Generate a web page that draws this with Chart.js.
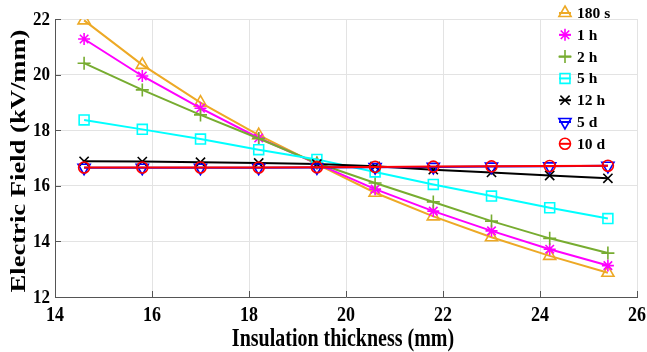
<!DOCTYPE html>
<html>
<head>
<meta charset="utf-8">
<script src="https://cdn.jsdelivr.net/npm/chart.js@4/dist/chart.umd.min.js"></script>
<style>
  html, body { margin: 0; padding: 0; background: #ffffff; }
  #wrap { width: 647px; height: 352px; position: relative; }
</style>
</head>
<body>
<div id="wrap"><canvas id="chart" width="647" height="352"></canvas></div>
<script>
// Insulation thickness (mm) at which the field was evaluated
const thickness = [14.6, 15.8, 17.0, 18.2, 19.4, 20.6, 21.8, 23.0, 24.2, 25.4];

// Electric field (kV/mm) after each elapsed time
const field180s = [21.95, 20.35, 18.99, 17.82, 16.78, 15.75, 14.90, 14.15, 13.48, 12.87];
const field1h   = [21.28, 19.95, 18.79, 17.72, 16.80, 15.88, 15.09, 14.38, 13.72, 13.13];
const field2h   = [20.41, 19.45, 18.55, 17.70, 16.82, 16.10, 15.42, 14.73, 14.11, 13.58];
const field5h   = [18.37, 18.03, 17.68, 17.30, 16.95, 16.50, 16.05, 15.63, 15.21, 14.82];
const field12h  = [16.88, 16.87, 16.85, 16.82, 16.78, 16.70, 16.58, 16.48, 16.37, 16.27];
const field5d   = [16.65, 16.65, 16.65, 16.65, 16.66, 16.67, 16.68, 16.69, 16.70, 16.72];
const field10d  = [16.66, 16.66, 16.66, 16.66, 16.67, 16.68, 16.69, 16.70, 16.71, 16.72];

const seriesNames = ['180 s', '1 h', '2 h', '5 h', '12 h', '5 d', '10 d'];
const xTicks = [14, 16, 18, 20, 22, 24, 26];
const yTicks = [12, 14, 16, 18, 20, 22];

const styles = [
  { color: '#EDA925', pointStyle: 'triangle', radius: 7,   rotation: 0 },
  { color: '#FF00FF', pointStyle: 'star',     radius: 6,   rotation: 0 },
  { color: '#77AC30', pointStyle: 'cross',    radius: 6.5, rotation: 0 },
  { color: '#00FFFF', pointStyle: 'rect',     radius: 7,   rotation: 0 },
  { color: '#000000', pointStyle: 'crossRot', radius: 6.5, rotation: 0 },
  { color: '#0000FF', pointStyle: 'triangle', radius: 7,   rotation: 180 },
  { color: '#FF0000', pointStyle: 'circle',   radius: 5.5, rotation: 0 }
];

const seriesValues = [field180s, field1h, field2h, field5h, field12h, field5d, field10d];

const datasets = seriesValues.map((vals, i) => ({
  label: seriesNames[i],
  data: vals.map((v, j) => ({ x: thickness[j], y: v })),
  borderColor: styles[i].color,
  borderWidth: 2,
  pointStyle: styles[i].pointStyle,
  pointRadius: styles[i].radius,
  pointRotation: styles[i].rotation,
  pointBorderColor: styles[i].color,
  pointBackgroundColor: 'rgba(0,0,0,0)',
  pointBorderWidth: 1.6,
  tension: 0,
  fill: false,
  // later series are painted over earlier ones
  order: seriesValues.length - i
}));

const SERIF = '"Liberation Serif", "Times New Roman", serif';
const AXIS_COLOR = '#555555';

function stretchedText(ctx, text, x, y, sy, align) {
  ctx.save();
  ctx.translate(x, y);
  ctx.scale(1, sy);
  ctx.textAlign = align;
  ctx.textBaseline = 'middle';
  ctx.fillText(text, 0, 0);
  ctx.restore();
}

function drawMarker(ctx, st, x, y) {
  ctx.save();
  ctx.strokeStyle = st.color;
  ctx.fillStyle = 'rgba(0,0,0,0)';
  ctx.lineWidth = 1.6;
  if (Chart.helpers && Chart.helpers.drawPoint) {
    Chart.helpers.drawPoint(ctx, {
      pointStyle: st.pointStyle, radius: st.radius,
      rotation: st.rotation, borderWidth: 1.6
    }, x, y);
  } else {
    ctx.beginPath();
    ctx.arc(x, y, st.radius, 0, Math.PI * 2);
    ctx.stroke();
  }
  ctx.restore();
}

const decorations = {
  id: 'decorations',
  afterDraw(chart) {
    const ctx = chart.ctx;
    const xs = chart.scales.x;
    const ys = chart.scales.y;
    const area = chart.chartArea;

    // inward tick marks
    ctx.save();
    ctx.strokeStyle = AXIS_COLOR;
    ctx.lineWidth = 1;
    xTicks.forEach(v => {
      const px = Math.round(xs.getPixelForValue(v)) + 0.5;
      ctx.beginPath();
      ctx.moveTo(px, area.bottom);
      ctx.lineTo(px, area.bottom - 6);
      ctx.stroke();
    });
    yTicks.forEach(v => {
      const py = Math.round(ys.getPixelForValue(v)) + 0.5;
      ctx.beginPath();
      ctx.moveTo(area.left, py);
      ctx.lineTo(area.left + 6, py);
      ctx.stroke();
    });
    ctx.restore();

    ctx.save();
    ctx.fillStyle = '#000000';

    // tick labels
    ctx.font = 'bold 18px ' + SERIF;
    xTicks.forEach(v => {
      stretchedText(ctx, String(v), xs.getPixelForValue(v), area.bottom + 19, 1.17, 'center');
    });
    ctx.font = 'bold 17px ' + SERIF;
    yTicks.forEach(v => {
      stretchedText(ctx, String(v), area.left - 5, ys.getPixelForValue(v) + 1, 1.05, 'right');
    });

    // axis titles
    ctx.font = 'bold 20px ' + SERIF;
    stretchedText(ctx, 'Insulation thickness (mm)', 343, 339, 1.27, 'center');

    ctx.save();
    ctx.translate(20, 161);
    ctx.rotate(-Math.PI / 2);
    ctx.scale(1.33, 1);
    ctx.textAlign = 'center';
    ctx.textBaseline = 'middle';
    ctx.fillText('Electric Field (kV/mm)', 0, 0);
    ctx.restore();

    // legend
    ctx.font = 'bold 15.5px ' + SERIF;
    ctx.textAlign = 'left';
    ctx.textBaseline = 'middle';
    seriesNames.forEach((name, i) => {
      const y = 13 + i * 21.8;
      const mx = 565;
      ctx.save();
      ctx.strokeStyle = styles[i].color;
      ctx.lineWidth = 2;
      ctx.beginPath();
      ctx.moveTo(mx - 6, y);
      ctx.lineTo(mx + 6, y);
      ctx.stroke();
      ctx.restore();
      drawMarker(ctx, styles[i], mx, y);
      ctx.fillStyle = '#000000';
      ctx.fillText(name, 577, y + 1);
    });
    ctx.restore();
  }
};

new Chart(document.getElementById('chart'), {
  type: 'line',
  data: { datasets },
  options: {
    responsive: false,
    animation: false,
    layout: { padding: { top: 19, right: 10, left: 0, bottom: 0 } },
    plugins: {
      legend: { display: false },
      tooltip: { enabled: false }
    },
    scales: {
      x: {
        type: 'linear',
        min: 14, max: 26,
        afterBuildTicks(scale) { scale.ticks = xTicks.map(v => ({ value: v })); },
        afterFit(scale) { scale.height = 55; },
        ticks: { display: false },
        grid: { color: '#e3e3e3', lineWidth: 1, drawTicks: false },
        border: { display: true, color: AXIS_COLOR, width: 1 }
      },
      y: {
        type: 'linear',
        min: 12, max: 22,
        afterBuildTicks(scale) { scale.ticks = yTicks.map(v => ({ value: v })); },
        afterFit(scale) { scale.width = 55; },
        ticks: { display: false },
        grid: { color: '#e3e3e3', lineWidth: 1, drawTicks: false },
        border: { display: true, color: AXIS_COLOR, width: 1 }
      }
    }
  },
  plugins: [decorations]
});
</script>
</body>
</html>
